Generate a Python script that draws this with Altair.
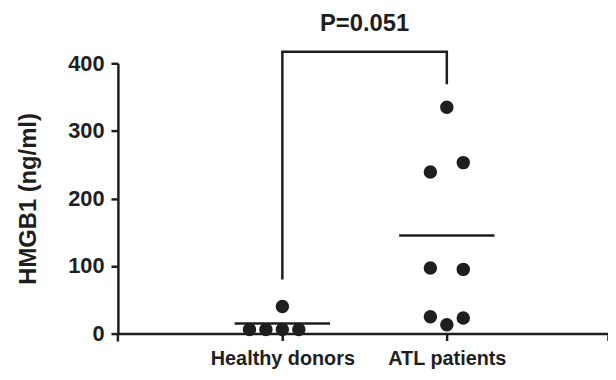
import altair as alt
import pandas as pd

# Data
groups = ["Healthy donors", "ATL patients"]
healthy_values = [40, 6, 6, 6, 6]
healthy_slots = [0, -2, -1, 0, 1]
atl_values = [335, 253, 239, 97, 95, 25, 23, 13]
atl_slots = [0, 1, -1, -1, 1, -1, 1, 0]
means = [15, 145]
p_label = "P=0.051"
bracket_y = [80, 417, 417, 369]
bracket_x = [1, 1, 2, 2]
y_ticks = [0, 100, 200, 300, 400]

pts = pd.DataFrame({
    "group": [1] * len(healthy_values) + [2] * len(atl_values),
    "slot": healthy_slots + atl_slots,
    "value": healthy_values + atl_values,
})
mean_df = pd.DataFrame({"group": [1, 2], "mean": means})
bracket_df = pd.DataFrame({"x": bracket_x, "y": bracket_y, "order": [0, 1, 2, 3]})
text_df = pd.DataFrame({"x": [1.5], "y": [458], "label": [p_label]})

INK = "#1e1e1e"
FONT = "Liberation Sans"

xscale = alt.Scale(domain=[0, 2.98], nice=False, zero=False)
yscale = alt.Scale(domain=[0, 400], nice=False)

xaxis = alt.Axis(
    values=[1, 2, 2.98],
    labelExpr="datum.value == 1 ? 'Healthy donors' : (datum.value == 2 ? 'ATL patients' : '')",
    title=None, grid=False, domainColor=INK, domainWidth=2.5, tickColor=INK,
    tickWidth=2.5, tickSize=7, labelFont=FONT, labelFontSize=20, labelFontWeight="bold",
    labelColor=INK, labelPadding=8, labelFlush=False,
)
yaxis = alt.Axis(
    values=y_ticks, title="HMGB1 (ng/ml)", grid=False, domainColor=INK, domainWidth=2.5,
    tickColor=INK, tickWidth=2.5, tickSize=7, labelFont=FONT, labelFontSize=22,
    labelFontWeight="bold", labelColor=INK, labelPadding=7, titleFont=FONT,
    titleFontSize=24, titleFontWeight="bold", titleColor=INK, titlePadding=28,
)

points = alt.Chart(pts).transform_calculate(
    xpos="datum.group + datum.slot * 0.1"
).mark_circle(size=185, color=INK, opacity=1).encode(
    x=alt.X("xpos:Q", scale=xscale, axis=xaxis),
    y=alt.Y("value:Q", scale=yscale, axis=yaxis),
)

mean_lines = alt.Chart(mean_df).transform_calculate(
    x1="datum.group - 0.29", x2="datum.group + 0.29"
).mark_rule(color=INK, strokeWidth=2.5).encode(
    x=alt.X("x1:Q", scale=xscale), x2="x2:Q", y=alt.Y("mean:Q", scale=yscale)
)

bracket = alt.Chart(bracket_df).mark_line(color=INK, strokeWidth=2.5, clip=False).encode(
    x=alt.X("x:Q", scale=xscale), y=alt.Y("y:Q", scale=yscale), order="order:Q"
)

# small downward extension of the y axis line below zero (GraphPad style)
axis_ext = alt.Chart(pd.DataFrame({"a": [0]})).mark_rule(
    color=INK, strokeWidth=2.5, clip=False
).encode(x=alt.value(0), y=alt.value(273), y2=alt.value(281))

ptext = alt.Chart(text_df).mark_text(
    font=FONT, fontSize=24, fontWeight="bold", color=INK, clip=False
).encode(x=alt.X("x:Q", scale=xscale), y=alt.Y("y:Q", scale=yscale), text="label:N")

chart = alt.layer(bracket, mean_lines, points, axis_ext, ptext).properties(
    width=495, height=273,
    background="white",
    autosize=alt.AutoSizeParams(type="none"),
    padding={"left": 111, "top": 54, "right": 0, "bottom": 40},
).configure_view(stroke=None)

chart.save("out.html", embed_options={"renderer": "svg", "actions": False})
